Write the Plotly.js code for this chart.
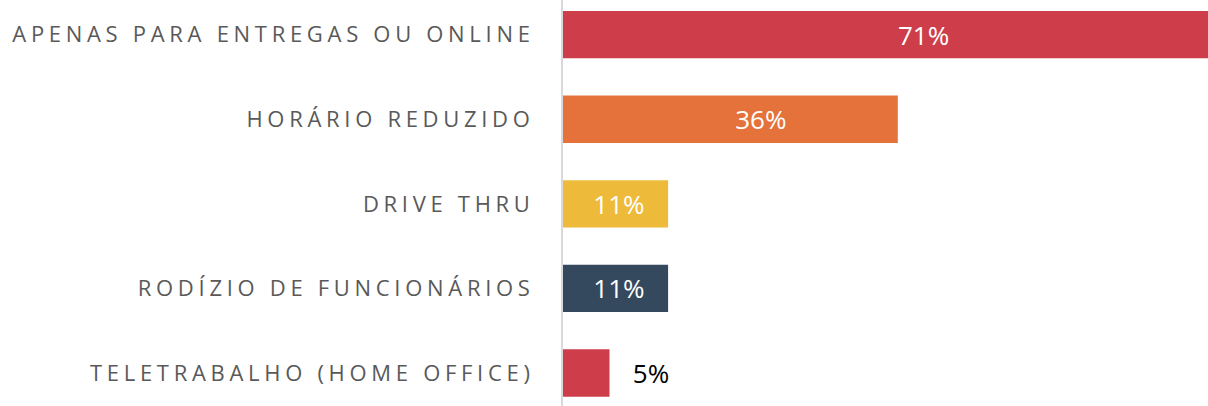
<!DOCTYPE html>
<html>
<head>
<meta charset="utf-8">
<script src="https://cdn.plot.ly/plotly-3.0.1.min.js"></script>
<style>
html, body { margin: 0; padding: 0; background: #ffffff; }
#chart { width: 1208px; height: 406px; }
.ytick text { letter-spacing: 4.7px; }
</style>
</head>
<body>
<div id="chart"></div>
<script>
const categories = [
  "APENAS PARA ENTREGAS OU ONLINE",
  "HORÁRIO REDUZIDO",
  "DRIVE THRU",
  "RODÍZIO DE FUNCIONÁRIOS",
  "TELETRABALHO (HOME OFFICE)"
];
const values = [71, 36, 11.3, 11.3, 5];
const valueLabels = [
  "\u00a0\u00a0\u00a0\u00a0\u00a0\u00a0\u00a0\u00a0\u00a071%",
  "\u00a0\u00a0\u00a0\u00a0\u00a0\u00a0\u00a0\u00a0\u00a036%",
  "\u00a011%",
  "\u00a011%",
  "\u00a0\u00a0\u00a05%"
];
const barColors = ["#CE3D4A", "#E5723B", "#EEBA3A", "#34495E", "#CE3D4A"];
const labelPositions = ["inside", "inside", "inside", "inside", "outside"];

const trace = {
  type: "bar",
  orientation: "h",
  x: values,
  y: categories,
  text: valueLabels,
  textposition: labelPositions,
  insidetextanchor: "middle",
  constraintext: "none",
  cliponaxis: true,
  marker: { color: barColors, line: { width: 0 } },
  insidetextfont: { family: "Open Sans", size: 26, color: "#ffffff" },
  outsidetextfont: { family: "Open Sans", size: 26, color: "#000000" },
  hoverinfo: "none"
};

const layout = {
  width: 1208,
  height: 406,
  margin: { l: 563, r: 0, t: 0, b: 0, pad: 0 },
  paper_bgcolor: "#ffffff",
  plot_bgcolor: "#ffffff",
  showlegend: false,
  bargap: 0.44,
  xaxis: {
    range: [0, 69.35],
    visible: false,
    fixedrange: true
  },
  yaxis: {
    type: "category",
    range: [4.39, -0.41],
    showline: true,
    linecolor: "#d9d9d9",
    linewidth: 2,
    showgrid: false,
    zeroline: false,
    ticks: "",
    ticklabelstandoff: 22,
    tickfont: { family: "Open Sans", size: 22, color: "#595959" },
    fixedrange: true
  }
};

Plotly.newPlot("chart", [trace], layout, { displayModeBar: false, staticPlot: true });
</script>
</body>
</html>
